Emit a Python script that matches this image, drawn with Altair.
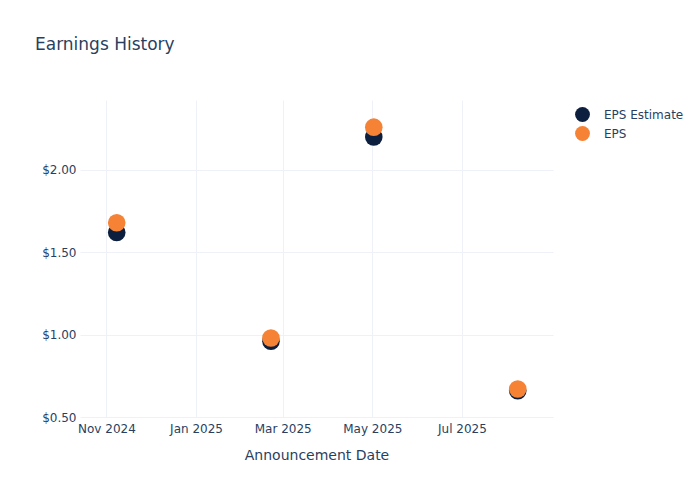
import altair as alt
import pandas as pd

dates = ["2024-11-08", "2025-02-21", "2025-05-02", "2025-08-08"]
eps_estimate = [1.62, 0.96, 2.20, 0.66]
eps_actual = [1.68, 0.98, 2.26, 0.67]
series_names = ["EPS Estimate", "EPS"]
series_colors = ["#0d1f3f", "#f58235"]
x_tick_dates = ["2024-11-01", "2025-01-01", "2025-03-01", "2025-05-01", "2025-07-01"]
y_ticks = [0.5, 1.0, 1.5, 2.0]

rows = []
for d, v in zip(dates, eps_estimate):
    rows.append({"date": d, "value": v, "series": series_names[0]})
for d, v in zip(dates, eps_actual):
    rows.append({"date": d, "value": v, "series": series_names[1]})
df = pd.DataFrame(rows)

font = "DejaVu Sans"
text_color = "#2a3f5f"
grid_color = "#eef1f7"

x_values = [alt.DateTime(year=int(s[:4]), month=int(s[5:7]), date=int(s[8:10])) for s in x_tick_dates]

chart = alt.Chart(df).mark_circle(opacity=1, size=310).encode(
    x=alt.X("date:T",
            title="Announcement Date",
            scale=alt.Scale(domain=[alt.DateTime(year=2024, month=10, date=14),
                                    alt.DateTime(year=2025, month=9, date=1)]),
            axis=alt.Axis(format="%b %Y", values=x_values, grid=True, gridColor=grid_color,
                          domain=False, ticks=False, labelColor=text_color, labelFont=font,
                          labelFontSize=12, labelPadding=6, titleFont=font, titleFontSize=14,
                          titleFontWeight="normal", titleColor=text_color, titlePadding=14,
                          labelFlush=False)),
    y=alt.Y("value:Q",
            title=None,
            scale=alt.Scale(domain=[0.5, 2.425], nice=False, zero=False),
            axis=alt.Axis(format="$.2f", values=y_ticks, grid=True, gridColor=grid_color,
                          domain=False, ticks=False, labelColor=text_color, labelFont=font,
                          labelFontSize=12, labelPadding=4, labelFlush=False)),
    color=alt.Color("series:N",
                    scale=alt.Scale(domain=series_names, range=series_colors),
                    legend=alt.Legend(title=None, orient="none", legendX=494, legendY=6,
                                      symbolSize=220, symbolType="circle", labelFont=font,
                                      labelFontSize=12, labelColor=text_color, rowPadding=3,
                                      labelOffset=13, symbolOpacity=1)),
    order=alt.Order("series_order:Q"),
).transform_calculate(
    series_order="datum.series === 'EPS Estimate' ? 0 : 1"
).properties(
    width=473,
    height=317,
    title=alt.TitleParams("Earnings History", anchor="start", frame="group", dx=-45,
                          offset=46, font=font, fontSize=17, fontWeight="normal",
                          color=text_color),
    autosize=alt.AutoSizeParams(type="none"),
    padding={"left": 72, "top": 92, "right": 139, "bottom": 75},
).configure(background="white").configure_view(stroke=None, strokeWidth=0)

chart.save("out.html", embed_options={"renderer": "svg", "actions": False})
